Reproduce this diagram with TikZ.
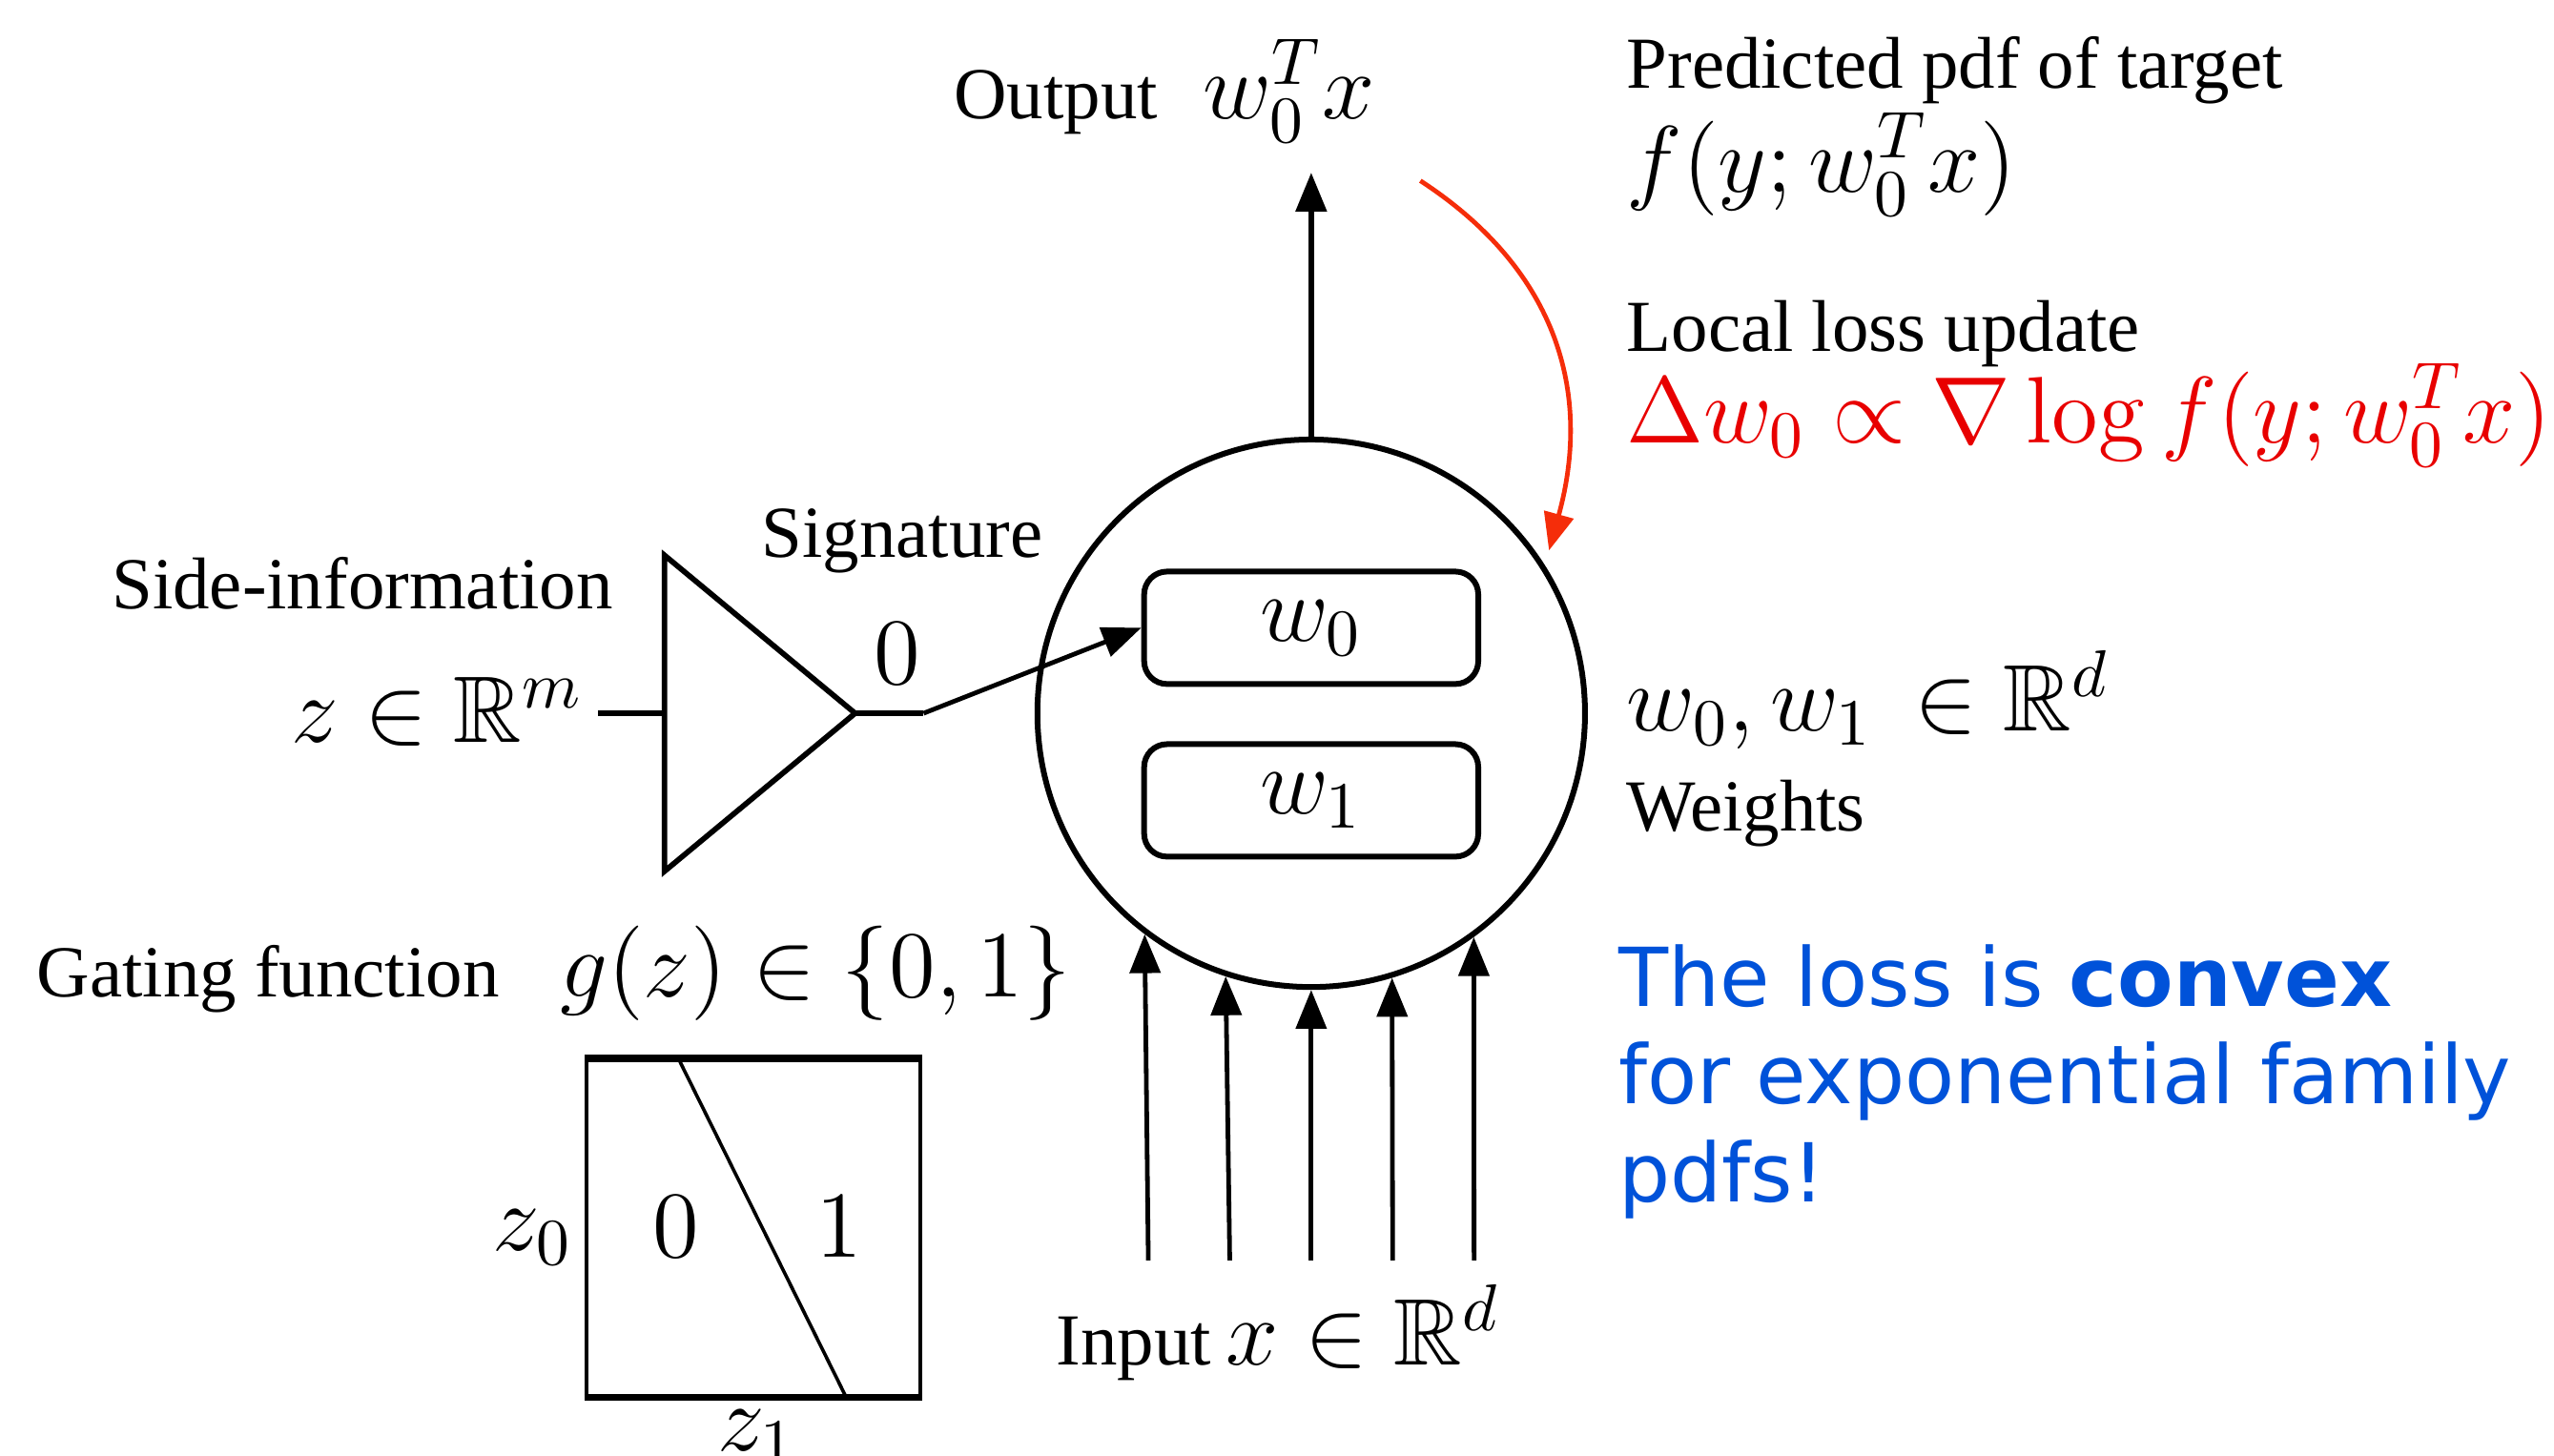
\RequirePackage{fix-cm}
\documentclass[tikz,border=0pt]{standalone}
\usepackage[no-math]{fontspec}
\setmainfont{Liberation Serif}
\newfontfamily\dejavu{DejaVu Sans}
\usepackage{amssymb}
\usetikzlibrary{arrows.meta}
\definecolor{redtxt}{RGB}{232,0,0}
\definecolor{redarrow}{RGB}{245,45,10}
\definecolor{bluetxt}{RGB}{0,82,217}
\begin{document}
\begin{tikzpicture}[x=0.01cm, y=-0.01cm,
  txt/.style={inner sep=0, anchor=base west, font=\fontsize{12.8}{15}\selectfont},
  mth/.style={inner sep=0, anchor=base west, font=\fontsize{16.5}{20}\selectfont},
  blu/.style={inner sep=0, anchor=base west, text=bluetxt, font=\dejavu\fontsize{14.2}{17}\selectfont},
  arr/.style={line width=0.8pt, -{Triangle[length=6.8pt,width=5.3pt]}},
  redarr/.style={draw=redarrow, line width=0.8pt, -{Triangle[length=6.5pt,width=5.2pt]}},
  wbox/.style={draw, line width=1pt, rounded corners=0.14cm, minimum width=2.05cm, minimum height=0.69cm, inner sep=0, font=\fontsize{16.5}{20}\selectfont},
]
\useasboundingbox (0,0) rectangle (1568,894);

% neuron
\node[circle, draw, line width=1pt, minimum size=3.36cm, inner sep=0] (neuron) at (805,438) {};
\node[wbox] (w0) at (805,385.5) {$w_0$};
\node[wbox] (w1) at (805,491.5) {$w_1$};

% output
\coordinate (outtip) at (805,106);
\draw[arr, line width=0.95pt] (neuron.north) -- (outtip);
\node[txt] (outlbl) at (585,73) {Output};
\node[mth] (outmath) at (738,73) {$w_0^T x$};

% right texts
\node[txt] (pred) at (998,54) {Predicted pdf of target};
\node[mth] (predf) at (998,118) {$f(y;w_0^Tx)$};
\node[txt] (local) at (998,216) {Local loss update};
\node[mth, text=redtxt] (upd) at (998,272) {$\Delta w_0 \propto \nabla \log f(y;w_0^Tx)$};
\node[mth] (wset) at (998,449) {$w_0, w_1\,\in \mathbb{R}^d$};
\node[txt] (weights) at (998,510) {Weights};
\node[blu] (b1) at (993,618) {The loss is \textbf{convex}};
\node[blu] (b2) at (993,678) {for exponential family};
\node[blu] (b3) at (993,738) {pdfs!};

% red update arrow
\coordinate (rs) at (872,111);
\coordinate (re) at (951,338);
\draw[redarr] (rs) .. controls (955,165) and (978,240) .. (re);

% side information and signature
\node[txt] (side) at (68,374) {Side-information};
\node[mth] (zlbl) at (178,456) {$z \in \mathbb{R}^m$};
\coordinate (zin) at (367,438);
\coordinate (tl) at (408,341);
\coordinate (tb) at (408,535);
\coordinate (tip) at (525,438);
\draw[line width=0.95pt, line join=miter] (tl) -- (tip) -- (tb) -- cycle;
\draw[line width=0.95pt] (zin) -- (zin -| tl);
\coordinate (sigk) at (567,438);
\draw[line width=0.95pt] (tip) -- (sigk);
\draw[arr] (sigk) -- (w0.west);
\node[txt] (sig) at (467,342) {Signature};
\node[mth, anchor=base] (sig0) at (551,420) {$0$};

% gating
\node[txt] (gating) at (22,612) {Gating function};
\node[mth] (gz) at (343,612) {$g(z) \in \{0,1\}$};
\node[draw, line width=0.6pt, minimum width=2.05cm, minimum height=2.06cm, inner sep=0] (gbox) at (462.5,754) {};
\draw[line width=1.2pt] (gbox.north west) -- (gbox.north east);
\draw[line width=1.2pt] (gbox.south west) -- (gbox.south east);
\coordinate (dtop) at (417,651);
\coordinate (dbot) at (519,857);
\draw[line width=0.6pt] (dtop) -- (dbot);
\node[mth, anchor=base] (g0) at (415,772) {$0$};
\node[mth, anchor=base] (g1) at (515,772) {$1$};
\node[mth] (z0) at (302,768) {$z_0$};
\node[mth, anchor=base] (z1) at (465,891) {$z_1$};

% inputs
\coordinate (i1) at (705,774);
\coordinate (i2) at (755,774);
\coordinate (i3) at (805,774);
\coordinate (i4) at (855,774);
\coordinate (i5) at (905,774);
\draw[arr] (i1) -- (neuron.233.47);
\draw[arr] (i2) -- (neuron.252.68);
\draw[arr] (i3) -- (neuron.270);
\draw[arr] (i4) -- (neuron.287.32);
\draw[arr] (i5) -- (neuron.306.53);
\node[txt] (inp) at (648,838) {Input};
\node[mth] (inpm) at (752,838) {$x \in \mathbb{R}^d$};
\end{tikzpicture}
\end{document}
